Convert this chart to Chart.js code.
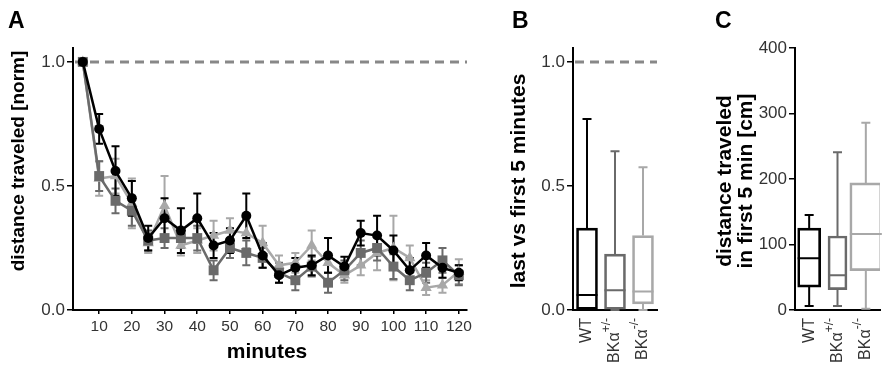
<!DOCTYPE html>
<html>
<head>
<meta charset="utf-8">
<script src="https://cdn.jsdelivr.net/npm/chart.js@4.4.1/dist/chart.umd.min.js"></script>
<style>
  html, body { margin: 0; padding: 0; background: #fff; }
  body { width: 892px; height: 375px; position: relative; overflow: hidden; }
  .panel { position: absolute; top: 0; }
</style>
</head>
<body>
<div class="panel" style="left:0px"><canvas id="chartA" width="480" height="375"></canvas></div>
<div class="panel" style="left:480px"><canvas id="chartB" width="190" height="375"></canvas></div>
<div class="panel" style="left:670px"><canvas id="chartC" width="222" height="375"></canvas></div>
<script>
// ---- data ----
const minutes = [5, 10, 15, 20, 25, 30, 35, 40, 45, 50, 55, 60, 65, 70, 75, 80, 85, 90, 95, 100, 105, 110, 115, 120];

const wtMean  = [1.0, 0.73, 0.56, 0.45, 0.29, 0.37, 0.32, 0.37, 0.26, 0.28, 0.38, 0.22, 0.14, 0.17, 0.18, 0.22, 0.175, 0.31, 0.30, 0.24, 0.16, 0.22, 0.17, 0.15];
const wtSem   = [0, 0.06, 0.10, 0.07, 0.05, 0.08, 0.09, 0.10, 0.05, 0.05, 0.09, 0.05, 0.03, 0.04, 0.04, 0.07, 0.04, 0.05, 0.08, 0.06, 0.05, 0.05, 0.04, 0.03];

const hetMean = [1.0, 0.54, 0.44, 0.40, 0.28, 0.29, 0.29, 0.29, 0.16, 0.25, 0.23, 0.21, 0.15, 0.12, 0.175, 0.11, 0.16, 0.23, 0.25, 0.175, 0.12, 0.15, 0.20, 0.14];
const hetSem  = [0, 0.06, 0.05, 0.06, 0.04, 0.04, 0.04, 0.05, 0.04, 0.04, 0.05, 0.04, 0.04, 0.04, 0.04, 0.04, 0.04, 0.05, 0.05, 0.05, 0.04, 0.04, 0.05, 0.04];

const koMean  = [1.0, 0.53, 0.54, 0.43, 0.27, 0.42, 0.26, 0.28, 0.30, 0.32, 0.31, 0.27, 0.18, 0.19, 0.26, 0.19, 0.14, 0.18, 0.23, 0.25, 0.21, 0.09, 0.10, 0.155];
const koSem   = [0, 0.07, 0.07, 0.10, 0.04, 0.12, 0.04, 0.05, 0.06, 0.05, 0.06, 0.07, 0.04, 0.04, 0.06, 0.04, 0.03, 0.04, 0.07, 0.13, 0.05, 0.03, 0.03, 0.05];

const groupMain = ['WT', 'BK\u03b1', 'BK\u03b1'];
const groupSup  = ['', '+/-', '-/-'];

// B: last vs first 5 minutes
const ratioMin = [0, 0, 0];
const ratioQ1  = [0, 0, 0.025];
const ratioMed = [0.06, 0.08, 0.075];
const ratioQ3  = [0.33, 0.225, 0.30];
const ratioMax = [0.77, 0.64, 0.575];

// C: distance in first 5 min [cm]
const distMin = [6, 6, 2];
const distQ1  = [35, 31, 60];
const distMed = [79, 53, 116];
const distQ3  = [125, 113, 194];
const distMax = [145, 241, 286];

const colors = ['#000000', '#6a6a6a', '#a8a8a8'];
const FONT = 'Arial, "Liberation Sans", Helvetica, sans-serif';

// ---- plugins ----
function decor(cfg) {
  return {
    id: 'decor',
    beforeDatasetsDraw(chart) {
      if (cfg.refLine === undefined) return;
      const ctx = chart.ctx, area = chart.chartArea;
      const y = chart.scales.y.getPixelForValue(cfg.refLine);
      ctx.save();
      ctx.strokeStyle = '#888';
      ctx.lineWidth = 3;
      ctx.setLineDash([9, 6]);
      ctx.beginPath();
      ctx.moveTo(area.left + 2, y);
      ctx.lineTo(area.right, y);
      ctx.stroke();
      ctx.restore();
    },
    afterDraw(chart) {
      const ctx = chart.ctx;
      ctx.save();
      ctx.fillStyle = '#000';
      ctx.font = 'bold 23px ' + FONT;
      ctx.textBaseline = 'top';
      ctx.fillText(cfg.letter, cfg.letterX, 10);

      ctx.font = 'bold ' + cfg.titleSize + 'px ' + FONT;
      ctx.textAlign = 'center';
      ctx.textBaseline = 'middle';
      cfg.yTitle.forEach((line, i) => {
        ctx.save();
        ctx.translate(cfg.yTitleX + i * 21, cfg.yTitleY);
        ctx.rotate(-Math.PI / 2);
        ctx.fillText(line, 0, 0);
        ctx.restore();
      });
      if (cfg.xTitle) {
        ctx.font = 'bold 21px ' + FONT;
        ctx.fillText(cfg.xTitle, (chart.chartArea.left + chart.chartArea.right) / 2 - 3, 352);
      }
      if (cfg.catLabels) {
        const xs = chart.scales.x;
        ctx.fillStyle = '#333';
        groupMain.forEach((m, i) => {
          const x = xs.getPixelForValue(i);
          ctx.save();
          ctx.translate(x, chart.chartArea.bottom + 8);
          ctx.rotate(-Math.PI / 2);
          ctx.textAlign = 'right';
          ctx.textBaseline = 'middle';
          let end = 0;
          if (groupSup[i]) {
            ctx.font = '12px ' + FONT;
            ctx.fillText(groupSup[i], 0, -8);
            end = -ctx.measureText(groupSup[i]).width;
          }
          ctx.font = '16px ' + FONT;
          ctx.fillText(m, end, 0);
          ctx.restore();
        });
      }
      ctx.restore();
    }
  };
}

const errorBars = {
  id: 'errorBars',
  beforeDatasetsDraw(chart) {
    const ctx = chart.ctx, ys = chart.scales.y;
    for (let d = chart.data.datasets.length - 1; d >= 0; d--) {
      const ds = chart.data.datasets[d];
      const meta = chart.getDatasetMeta(d);
      ctx.save();
      ctx.strokeStyle = ds.borderColor;
      ctx.lineWidth = 2;
      meta.data.forEach((pt, i) => {
        const e = ds.errors[i];
        if (!e) return;
        const v = ds.data[i].y;
        const top = ys.getPixelForValue(v + e), bot = ys.getPixelForValue(v - e);
        ctx.beginPath();
        ctx.moveTo(pt.x, top); ctx.lineTo(pt.x, bot);
        ctx.moveTo(pt.x - 4, top); ctx.lineTo(pt.x + 4, top);
        ctx.moveTo(pt.x - 4, bot); ctx.lineTo(pt.x + 4, bot);
        ctx.stroke();
      });
      ctx.restore();
    }
  }
};

const whiskers = {
  id: 'whiskers',
  afterDatasetsDraw(chart) {
    const ctx = chart.ctx, ys = chart.scales.y;
    chart.data.datasets.forEach((ds, d) => {
      const el = chart.getDatasetMeta(d).data[ds.group];
      const half = el.width / 2, x = el.x;
      const p = v => ys.getPixelForValue(v);
      ctx.save();
      ctx.strokeStyle = ds.borderColor;
      ctx.lineWidth = 2;
      ctx.beginPath();
      ctx.moveTo(x, p(ds.hi)); ctx.lineTo(x, p(ds.data[ds.group][1]));
      ctx.moveTo(x - 4.5, p(ds.hi)); ctx.lineTo(x + 4.5, p(ds.hi));
      ctx.moveTo(x, p(ds.data[ds.group][0])); ctx.lineTo(x, p(ds.lo));
      ctx.moveTo(x - 4.5, p(ds.lo)); ctx.lineTo(x + 4.5, p(ds.lo));
      ctx.moveTo(x - half, p(ds.med)); ctx.lineTo(x + half, p(ds.med));
      ctx.stroke();
      ctx.restore();
    });
  }
};

// ---- shared axis helpers ----
function yAxis(width, min, max, step, fmt) {
  return {
    min, max,
    afterFit: s => { s.width = width; },
    ticks: { stepSize: step, includeBounds: false, color: '#333', padding: 2,
             font: { family: FONT, size: 17 }, callback: fmt },
    grid: { drawOnChartArea: false, drawTicks: true, tickLength: 6, color: '#000', lineWidth: 1.5 },
    border: { display: true, color: '#000', width: 2 }
  };
}

const baseOpts = { responsive: false, animation: false, devicePixelRatio: 1,
  plugins: { legend: { display: false }, tooltip: { enabled: false } } };

// ---- A: time course ----
function series(label, mean, sem, color, style, radius) {
  return {
    label,
    data: minutes.map((m, i) => ({ x: m, y: mean[i] })),
    errors: sem,
    borderColor: color, backgroundColor: color,
    borderWidth: 2.5, pointStyle: style, pointRadius: radius, pointBorderWidth: 0,
    tension: 0
  };
}

new Chart(document.getElementById('chartA'), {
  type: 'line',
  data: {
    datasets: [
      series('WT', wtMean, wtSem, colors[0], 'circle', 5),
      series('BKa+/-', hetMean, hetSem, colors[1], 'rect', 7),
      series('BKa-/-', koMean, koSem, colors[2], 'triangle', 6.5)
    ]
  },
  options: {
    ...baseOpts,
    layout: { padding: { top: 48, right: 13, left: 0, bottom: 0 } },
    scales: {
      x: {
        type: 'linear', min: 2, max: 122.5,
        afterFit: s => { s.height = 65; },
        ticks: { stepSize: 10, includeBounds: false, autoSkip: false, maxRotation: 0,
                 color: '#333', padding: 3, font: { family: FONT, size: 15.5 } },
        grid: { drawOnChartArea: false, drawTicks: true, tickLength: 4, color: '#000', lineWidth: 1.5 },
        border: { display: true, color: '#000', width: 2 }
      },
      y: yAxis(73, 0, 1.056, 0.5, v => v.toFixed(1))
    }
  },
  plugins: [errorBars, decor({ letter: 'A', letterX: 8, yTitle: ['distance traveled [norm]'], titleSize: 19,
                               yTitleX: 19, yTitleY: 161, xTitle: 'minutes', refLine: 1.0 })]
});

// ---- B & C: box plots ----
function boxSets(lo, q1, med, q3, hi, widths) {
  return groupMain.map((g, i) => ({
    data: groupMain.map((_, j) => (j === i ? [q1[i], q3[i]] : null)),
    group: i, lo: lo[i], med: med[i], hi: hi[i],
    borderColor: colors[i], backgroundColor: 'rgba(0,0,0,0)',
    borderWidth: 2, borderSkipped: false, barThickness: widths[i]
  }));
}

function boxChart(id, sets, yCfg, decoCfg) {
  return new Chart(document.getElementById(id), {
    type: 'bar',
    data: { labels: groupMain.map((m, i) => m + groupSup[i]), datasets: sets },
    options: {
      ...baseOpts,
      datasets: { bar: { grouped: false } },
      layout: { padding: { top: 48, right: decoCfg.padRight, left: 0, bottom: 0 } },
      scales: {
        x: {
          type: 'category', offset: true,
          afterFit: s => { s.height = 65; },
          ticks: { display: false },
          grid: { display: false },
          border: { display: true, color: '#000', width: 2 }
        },
        y: yCfg
      }
    },
    plugins: [whiskers, decor(decoCfg)]
  });
}

boxChart('chartB',
  boxSets(ratioMin, ratioQ1, ratioMed, ratioQ3, ratioMax, [21, 21, 21]),
  yAxis(93, 0, 1.056, 0.5, v => v.toFixed(1)),
  { letter: 'B', letterX: 32, yTitle: ['last vs first 5 minutes'], titleSize: 21, yTitleX: 39, yTitleY: 181,
    catLabels: true, refLine: 1.0, padRight: 13 });

boxChart('chartC',
  boxSets(distMin, distQ1, distMed, distQ3, distMax, [23, 19, 32]),
  yAxis(125, 0, 400, 100, v => String(v)),
  { letter: 'C', letterX: 45, yTitle: ['distance traveled', 'in first 5 min [cm]'], titleSize: 21, yTitleX: 55, yTitleY: 181,
    catLabels: true, padRight: 12 });
</script>
</body>
</html>
